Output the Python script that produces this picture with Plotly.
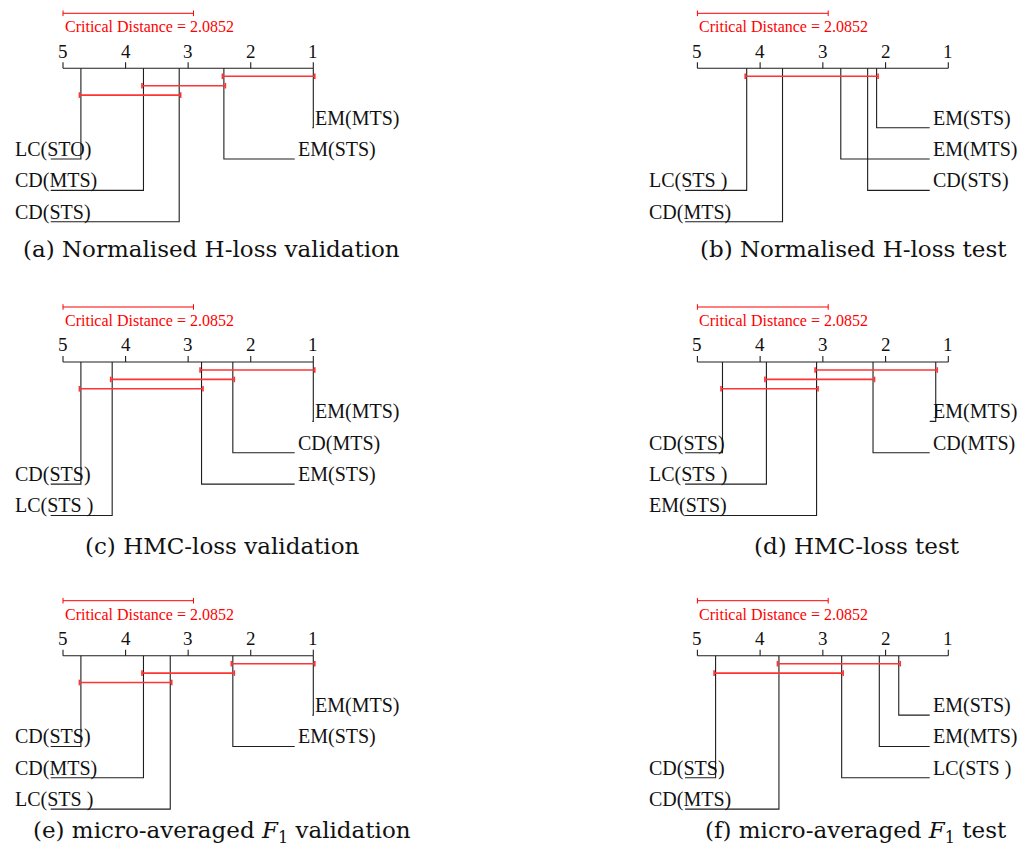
import plotly.graph_objects as go

# ---------------- data ----------------
TICKS = [5, 4, 3, 2, 1]
TICK_LABELS = ["5", "4", "3", "2", "1"]
CD_VALUE = 2.0852
CD_LABEL = "Critical Distance = 2.0852"

# (a) Normalised H-loss validation
a_left_names = ["LC(STO)", "CD(MTS)", "CD(STS)"]
a_left_ranks = [4.714, 3.714, 3.143]
a_right_names = ["EM(MTS)", "EM(STS)"]
a_right_ranks = [1.0, 2.429]
a_cliques = [(1.0, 2.429), (2.429, 3.714), (3.143, 4.714)]

# (b) Normalised H-loss test
b_left_names = ["LC(STS )", "CD(MTS)"]
b_left_ranks = [4.214, 3.643]
b_right_names = ["EM(STS)", "EM(MTS)", "CD(STS)"]
b_right_ranks = [2.143, 2.714, 2.286]
b_cliques = [(2.143, 4.214)]

# (c) HMC-loss validation
c_left_names = ["CD(STS)", "LC(STS )"]
c_left_ranks = [4.714, 4.214]
c_right_names = ["EM(MTS)", "CD(MTS)", "EM(STS)"]
c_right_ranks = [1.0, 2.286, 2.786]
c_cliques = [(1.0, 2.786), (2.286, 4.214), (2.786, 4.714)]

# (d) HMC-loss test
d_left_names = ["CD(STS)", "LC(STS )", "EM(STS)"]
d_left_ranks = [4.60, 3.90, 3.10]
d_right_names = ["EM(MTS)", "CD(MTS)"]
d_right_ranks = [1.20, 2.20]
d_cliques = [(1.20, 3.10), (2.20, 3.90), (3.10, 4.60)]

# (e) micro-averaged F1 validation
e_left_names = ["CD(STS)", "CD(MTS)", "LC(STS )"]
e_left_ranks = [4.714, 3.714, 3.286]
e_right_names = ["EM(MTS)", "EM(STS)"]
e_right_ranks = [1.0, 2.286]
e_cliques = [(1.0, 2.286), (2.286, 3.714), (3.286, 4.714)]

# (f) micro-averaged F1 test
f_left_names = ["CD(STS)", "CD(MTS)"]
f_left_ranks = [4.71, 3.70]
f_right_names = ["EM(STS)", "EM(MTS)", "LC(STS )"]
f_right_ranks = [1.79, 2.10, 2.70]
f_cliques = [(1.79, 3.70), (2.70, 4.71)]

captions = [
    "(a) Normalised H-loss validation",
    "(b) Normalised H-loss test",
    "(c) HMC-loss validation",
    "(d) HMC-loss test",
    "(e) micro-averaged <i>F</i><sub>1</sub> validation",
    "(f) micro-averaged <i>F</i><sub>1</sub> test",
]

# ---------------- layout constants (pixels) ----------------
W, H = 1025, 856
COL_AX5 = [63.0, 697.4]      # pixel of rank 5 per column
COL_AX1 = [313.3, 948.3]     # pixel of rank 1 per column
ROW_TOP = [0.0, 293.7, 587.4]
CAPTION_Y = [249.3, 545.8, 832.3]
CAPTION_X = [[211, 853], [222.5, 857], [222, 856]]

CD_BAR_Y = 13.3
CD_TEXT_Y = 26.7
TICKLAB_Y = 51.2
AXIS_Y = 68.3
TICK_LEN = 6
CAP = 2.8
CLIQUE_Y0 = 76.3
CLIQUE_DY = 9.4
LEVEL_Y0 = 127.7
LEVEL_DY = 31.35
LEVEL_MAX = 3
TEXT_DY = -9.5

SERIF = "Liberation Serif"
LINE_COLOR = "#1e1e1e"
RED = "#ff0000"
CLIQUE_RED = "#ff3434"

panels = [
    (a_left_names, a_left_ranks, a_right_names, a_right_ranks, a_cliques),
    (b_left_names, b_left_ranks, b_right_names, b_right_ranks, b_cliques),
    (c_left_names, c_left_ranks, c_right_names, c_right_ranks, c_cliques),
    (d_left_names, d_left_ranks, d_right_names, d_right_ranks, d_cliques),
    (e_left_names, e_left_ranks, e_right_names, e_right_ranks, e_cliques),
    (f_left_names, f_left_ranks, f_right_names, f_right_ranks, f_cliques),
]

fig = go.Figure()
annotations = []

for idx, (ln, lr, rn, rr, cl) in enumerate(panels):
    row, col = divmod(idx, 2)
    xa = "x" if col == 0 else "x2"
    top = ROW_TOP[row]
    scale = (COL_AX1[col] - COL_AX5[col]) / (TICKS[0] - TICKS[-1])
    px = lambda p: p / scale  # pixel length -> rank units
    hi_t, lo_t = TICKS[0], TICKS[-1]
    ay = top + AXIS_Y

    black_x, black_y = [], []
    red_x, red_y = [], []
    cl_x, cl_y = [], []

    # scale axis line + ticks
    black_x += [hi_t, lo_t, None]
    black_y += [ay, ay, None]
    for t, lab in zip(TICKS, TICK_LABELS):
        black_x += [t, t, None]
        black_y += [ay, ay - TICK_LEN, None]
        annotations.append(dict(x=t, y=top + TICKLAB_Y, xref=xa, yref="y", text=lab,
                                showarrow=False, xanchor="center", yanchor="middle",
                                font=dict(family=SERIF, size=19, color="#111")))

    # critical distance bar
    cy = top + CD_BAR_Y
    x0, x1 = hi_t, hi_t - CD_VALUE
    red_x += [x0, x1, None, x0, x0, None, x1, x1, None]
    red_y += [cy, cy, None, cy - CAP, cy + CAP, None, cy - CAP, cy + CAP, None]
    annotations.append(dict(x=hi_t, y=top + CD_TEXT_Y, xref=xa, yref="y", text=CD_LABEL,
                            showarrow=False, xanchor="left", yanchor="middle",
                            font=dict(family=SERIF, size=16, color=RED)))

    # cliques
    ext = px(1.5)
    for j, (lo, hi) in enumerate(cl):
        yy = ay + (CLIQUE_Y0 - AXIS_Y) + j * CLIQUE_DY
        xl, xr = hi + ext, lo - ext
        cl_x += [xl, xr, None, xl, xl, None, xr, xr, None]
        cl_y += [yy, yy, None, yy - CAP, yy + CAP, None, yy - CAP, yy + CAP, None]

    # left-side labels
    n_l = len(ln)
    left_line_end = hi_t + px(12.3)
    left_text_x = hi_t + px(50)
    for i, (name, r) in enumerate(zip(ln, lr)):
        level = LEVEL_MAX - (n_l - 1) + i
        yl = top + LEVEL_Y0 + level * LEVEL_DY
        black_x += [r, r, left_line_end, None]
        black_y += [ay, yl, yl, None]
        annotations.append(dict(x=left_text_x, y=yl + TEXT_DY, xref=xa, yref="y", text=name,
                                showarrow=False, xanchor="left", yanchor="middle",
                                font=dict(family=SERIF, size=20, color="#111")))

    # right-side labels
    right_text_x = lo_t + px(17.6)
    for i, (name, r) in enumerate(zip(rn, rr)):
        level = i
        yl = top + LEVEL_Y0 + level * LEVEL_DY
        lx = r if r <= lo_t else right_text_x
        black_x += [r, r, lx + px(1), None]
        black_y += [ay, yl, yl, None]
        annotations.append(dict(x=lx, y=yl + TEXT_DY, xref=xa, yref="y", text=name,
                                showarrow=False, xanchor="left", yanchor="middle",
                                font=dict(family=SERIF, size=20, color="#111")))

    fig.add_trace(go.Scatter(x=black_x, y=black_y, mode="lines", xaxis=xa, yaxis="y",
                             line=dict(color=LINE_COLOR, width=1.1), hoverinfo="skip",
                             showlegend=False))
    fig.add_trace(go.Scatter(x=red_x, y=red_y, mode="lines", xaxis=xa, yaxis="y",
                             line=dict(color=RED, width=1), hoverinfo="skip",
                             showlegend=False))
    fig.add_trace(go.Scatter(x=cl_x, y=cl_y, mode="lines", xaxis=xa, yaxis="y",
                             line=dict(color=CLIQUE_RED, width=1.6), hoverinfo="skip",
                             showlegend=False))

    # caption
    annotations.append(dict(x=CAPTION_X[row][col] / W, y=1 - CAPTION_Y[row] / H,
                            xref="paper", yref="paper", text=captions[idx],
                            showarrow=False, xanchor="center", yanchor="middle",
                            font=dict(family="DejaVu Serif", size=23, color="#111")))


def xrange_for(col):
    scale = (COL_AX1[col] - COL_AX5[col]) / (TICKS[0] - TICKS[-1])
    return [TICKS[0] + COL_AX5[col] / scale, TICKS[0] - (W - COL_AX5[col]) / scale]


fig.update_layout(
    width=W, height=H,
    margin=dict(l=0, r=0, t=0, b=0),
    paper_bgcolor="white", plot_bgcolor="white",
    xaxis=dict(domain=[0, 1], range=xrange_for(0), visible=False, fixedrange=True),
    xaxis2=dict(domain=[0, 1], range=xrange_for(1), visible=False, overlaying="x",
                anchor="y", fixedrange=True),
    yaxis=dict(domain=[0, 1], range=[H, 0], visible=False, fixedrange=True),
    annotations=annotations,
    showlegend=False,
)

fig.write_html(
    "out.html",
    config={"displayModeBar": False},
    post_script="document.body.style.margin='0';document.body.style.overflow='hidden';",
)
